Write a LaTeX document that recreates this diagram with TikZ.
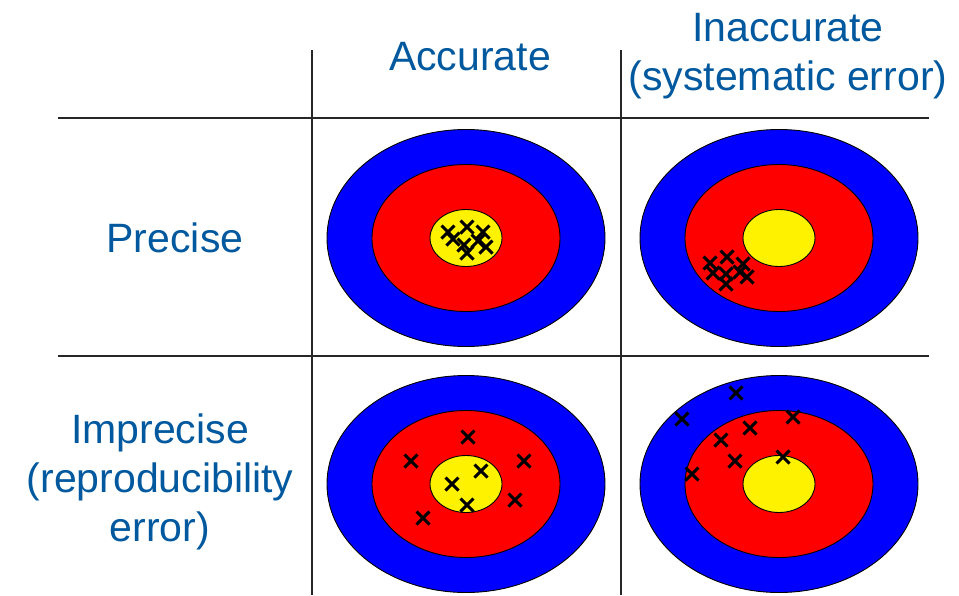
\documentclass[tikz,border=0pt]{standalone}
\usepackage{fontspec}
\setmainfont{Liberation Sans}
\definecolor{labelblue}{RGB}{0,88,158}
\begin{document}
\begin{tikzpicture}[x=1pt,y=-1pt,
  heading/.style={text=labelblue, font=\fontsize{41}{49}\selectfont, inner sep=0pt, align=center},
  ring/.style={draw=black, line width=0.9pt},
  hit/.style={line width=2.9pt}]
 \useasboundingbox (0,0) rectangle (959,595);
 % table rules
 \draw[line width=1.5pt, black!85] (58,118) -- (929,118);
 \draw[line width=1.5pt, black!85] (58,356) -- (929,356);
 \draw[line width=1.5pt, black!85] (312,50) -- (312,595);
 \draw[line width=1.5pt, black!85] (621,50) -- (621,595);
 % headings
 \node[heading, anchor=base] (acc) at (470,70) {Accurate};
 \node[heading] (inacc) at (788,56) {Inaccurate\\(systematic error)};
 \node[heading, anchor=base] (prec) at (175,252) {Precise};
 \node[heading] (imprec) at (160,482) {Imprecise\\(reproducibility\\error)};
 % targets
 \foreach \cx/\cy in {466/238, 779/238, 466/484, 779/484} {
   \filldraw[ring, fill=blue] (\cx,\cy) ellipse [x radius=139, y radius=108.5];
   \filldraw[ring, fill=red] (\cx,\cy) ellipse [x radius=94, y radius=73.5];
   \filldraw[ring, fill=yellow] (\cx,\cy) ellipse [x radius=36, y radius=28.5];
 }
 % hits
 \foreach \hx/\hy in {448/232, 467/227, 483/232, 453/239, 464/245, 478/241, 486/247, 467/253,
                      710/263, 727/257, 743/264, 713/273, 726/274, 740/272, 747/277, 726/284,
                      468/437, 411/461, 524/461, 481/471, 452/484, 515/500, 467/505, 423/518,
                      736/393, 682/419, 793/417, 750/428, 721/440, 783/457, 735/461, 692/474}
   \draw[hit] (\hx-6.5,\hy-6.5) -- (\hx+6.5,\hy+6.5) (\hx-6.5,\hy+6.5) -- (\hx+6.5,\hy-6.5);
\end{tikzpicture}
\end{document}
